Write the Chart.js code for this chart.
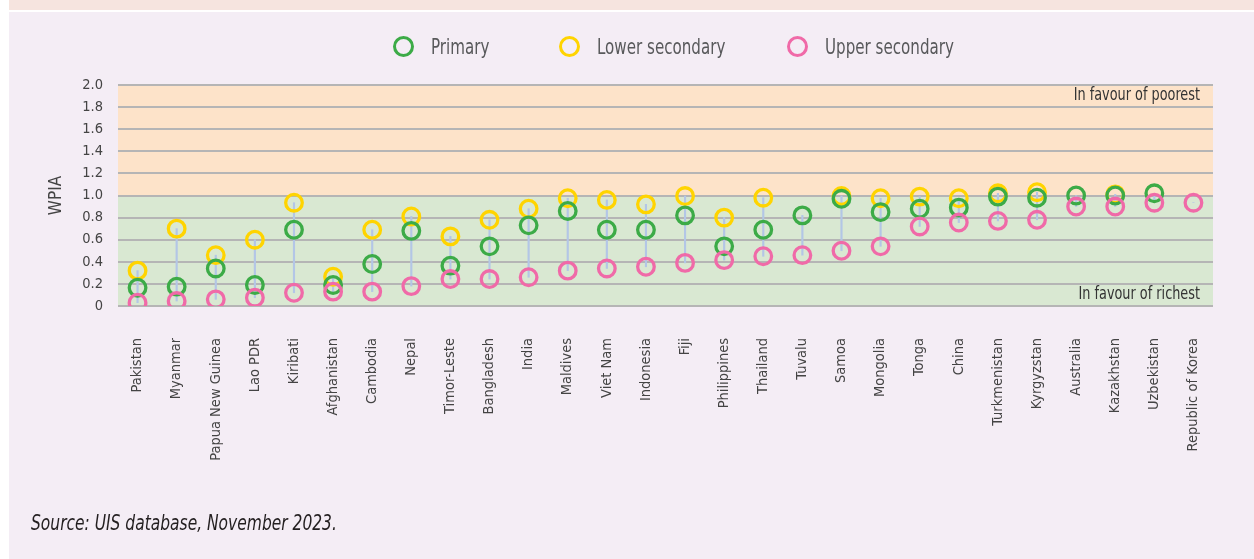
<!DOCTYPE html>
<html>
<head>
<meta charset="utf-8">
<script src="https://cdn.jsdelivr.net/npm/chart.js@4.4.1/dist/chart.umd.min.js"></script>
<style>
  body { margin: 0; background: #ffffff; width: 1254px; height: 559px; overflow: hidden; position: relative;
         font-family: "Liberation Sans Narrow", "DejaVu Sans Condensed", sans-serif; }
  #strip { position: absolute; left: 9px; top: 0; right: 0; height: 10px; background: #f6e4df; }
  #panel { position: absolute; left: 9px; top: 12px; right: 0; bottom: 0; background: #f4edf5; }
  #chart { position: absolute; left: 0; top: 0; }
  .leg { position: absolute; top: 36px; height: 21px; display: flex; align-items: center;
         font-size: 21px; color: #58595b; white-space: nowrap; }
  .leg span.dot { display: inline-block; width: 15px; height: 15px; border-radius: 50%; border: 3px solid; margin-right: 17px; }
  .leg span.txt { display: inline-block; transform: scaleX(0.8); transform-origin: left center; }
  #source { position: absolute; left: 31px; top: 511px; font-size: 21px; font-style: italic; color: #231f20;
            transform: scaleX(0.82); transform-origin: left center; white-space: nowrap; }
</style>
</head>
<body>
<div id="strip"></div>
<div id="panel"></div>
<canvas id="chart" width="1254" height="559"></canvas>
<div class="leg" style="left:393px"><span class="dot" style="border-color:#3cab47"></span><span class="txt">Primary</span></div>
<div class="leg" style="left:559px"><span class="dot" style="border-color:#ffd400"></span><span class="txt">Lower secondary</span></div>
<div class="leg" style="left:787px"><span class="dot" style="border-color:#f06aa8"></span><span class="txt">Upper secondary</span></div>
<div id="source">Source: UIS database, November 2023.</div>
<script>
var countries = ['Pakistan', 'Myanmar', 'Papua New Guinea', 'Lao PDR', 'Kiribati', 'Afghanistan', 'Cambodia',
  'Nepal', 'Timor-Leste', 'Bangladesh', 'India', 'Maldives', 'Viet Nam', 'Indonesia', 'Fiji', 'Philippines',
  'Thailand', 'Tuvalu', 'Samoa', 'Mongolia', 'Tonga', 'China', 'Turkmenistan', 'Kyrgyzstan', 'Australia',
  'Kazakhstan', 'Uzbekistan', 'Republic of Korea'];

var primary = [0.165, 0.175, 0.34, 0.19, 0.69, 0.19, 0.38, 0.68, 0.365, 0.54, 0.73, 0.86, 0.69, 0.69,
  0.82, 0.54, 0.69, 0.82, 0.97, 0.85, 0.88, 0.89, 0.99, 0.98, 1.00, 1.00, 1.02, null];
var lowerSecondary = [0.32, 0.70, 0.46, 0.60, 0.935, 0.265, 0.69, 0.81, 0.63, 0.78, 0.88, 0.975, 0.96, 0.92,
  0.995, 0.80, 0.98, null, 0.995, 0.975, 0.99, 0.975, 1.02, 1.03, null, 1.01, null, null];
var upperSecondary = [0.03, 0.045, 0.06, 0.075, 0.12, 0.13, 0.13, 0.18, 0.244, 0.244, 0.26, 0.32, 0.34, 0.355,
  0.39, 0.415, 0.45, 0.46, 0.50, 0.54, 0.72, 0.755, 0.77, 0.78, 0.90, 0.90, 0.935, 0.935];

var yTickLabels = ['0', '0.2', '0.4', '0.6', '0.8', '1.0', '1.2', '1.4', '1.6', '1.8', '2.0'];
var zoneNotes = ['In favour of poorest', 'In favour of richest'];

// span between lowest and highest value of each country, for the thin connector
var spans = countries.map(function (c, i) {
  var vals = [primary[i], lowerSecondary[i], upperSecondary[i]].filter(function (v) { return v !== null; });
  return [Math.min.apply(null, vals), Math.max.apply(null, vals)];
});

var zonesPlugin = {
  id: 'zones',
  beforeDraw: function (chart) {
    var ctx = chart.ctx, a = chart.chartArea, y = chart.scales.y;
    ctx.save();
    ctx.fillStyle = '#fde3c9';
    ctx.fillRect(a.left, y.getPixelForValue(2), a.width, y.getPixelForValue(1) - y.getPixelForValue(2));
    ctx.fillStyle = '#d9e8d2';
    ctx.fillRect(a.left, y.getPixelForValue(1), a.width, y.getPixelForValue(0) - y.getPixelForValue(1));
    ctx.restore();
  },
  afterDatasetsDraw: function (chart) {
    var ctx = chart.ctx, a = chart.chartArea, y = chart.scales.y;
    var sx = 0.84;
    ctx.save();
    ctx.font = '17px "Liberation Sans Narrow", "DejaVu Sans Condensed", sans-serif';
    ctx.fillStyle = '#333333';
    ctx.textAlign = 'right';
    ctx.textBaseline = 'middle';
    ctx.scale(sx, 1);
    ctx.fillText(zoneNotes[0], (a.right - 13) / sx, y.getPixelForValue(1.9));
    ctx.fillText(zoneNotes[1], (a.right - 13) / sx, y.getPixelForValue(0.1));
    ctx.restore();
  }
};

function ring(label, data, color) {
  return {
    type: 'line',
    label: label,
    data: data,
    showLine: false,
    borderColor: color,
    backgroundColor: 'rgba(0,0,0,0)',
    pointBorderColor: color,
    pointBackgroundColor: 'rgba(0,0,0,0)',
    pointRadius: 8.3,
    pointBorderWidth: 3.3
  };
}

Chart.defaults.font.family = '"Liberation Sans Narrow", "DejaVu Sans Condensed", sans-serif';
Chart.defaults.color = '#444444';

new Chart(document.getElementById('chart'), {
  data: {
    labels: countries,
    datasets: [
      ring('Upper secondary', upperSecondary, '#f06aa8'),
      ring('Primary', primary, '#3cab47'),
      ring('Lower secondary', lowerSecondary, '#ffd400'),
      {
        type: 'bar',
        label: 'span',
        data: spans,
        backgroundColor: '#b3c6e6',
        barThickness: 1.5
      }
    ]
  },
  options: {
    responsive: false,
    animation: false,
    events: [],
    layout: { padding: { top: 85, right: 41, bottom: 0, left: 46 } },
    plugins: { legend: { display: false }, tooltip: { enabled: false } },
    scales: {
      x: {
        offset: true,
        grid: { display: false, drawTicks: false },
        border: { display: false },
        ticks: { autoSkip: false, maxRotation: 90, minRotation: 90, padding: 32, font: { size: 14.5 }, color: '#444444' },
        afterFit: function (scale) { scale.height = 253; }
      },
      y: {
        min: 0,
        max: 2,
        grid: { color: '#b5b5b5', lineWidth: 2, drawTicks: false },
        border: { display: false },
        ticks: {
          stepSize: 0.2,
          autoSkip: false,
          padding: 15,
          font: { size: 14.5 },
          color: '#444444',
          callback: function (v, i) { return yTickLabels[i]; }
        },
        title: { display: true, text: 'WPIA', font: { size: 17 }, color: '#444444', padding: 0 },
        afterFit: function (scale) { scale.width = 72; }
      }
    }
  },
  plugins: [zonesPlugin]
});
</script>
</body>
</html>
